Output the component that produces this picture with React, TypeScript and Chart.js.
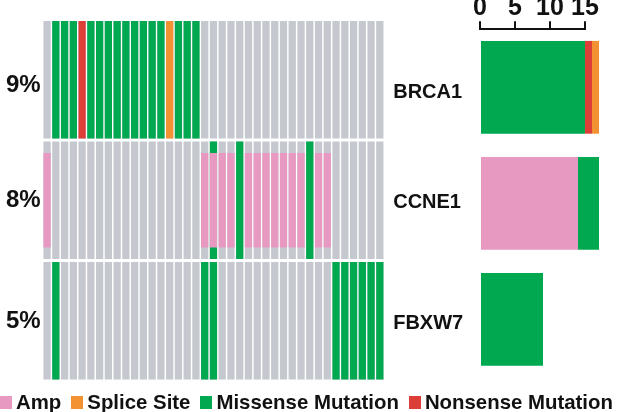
import React, { useEffect, useRef } from "react";
import { Chart, registerables } from "chart.js";
Chart.register(...registerables);

// ---------- data ----------
const GENES = ["BRCA1", "CCNE1", "FBXW7"];
const PERCENTS = ["9%", "8%", "5%"];
const SAMPLES = [
  "S1", "S2", "S3", "S4", "S5", "S6", "S7", "S8", "S9", "S10",
  "S11", "S12", "S13", "S14", "S15", "S16", "S17", "S18", "S19", "S20",
  "S21", "S22", "S23", "S24", "S25", "S26", "S27", "S28", "S29", "S30",
  "S31", "S32", "S33", "S34", "S35", "S36", "S37", "S38", "S39",
];
// per-sample alteration: "-" none, "M" missense, "N" nonsense, "S" splice, "A" amp, "AM" amp+missense
const BRCA1_ALT = [
  "-", "M", "M", "M", "N", "M", "M", "M", "M", "M", "M", "M", "M", "M", "S", "M", "M", "M",
  "-", "-", "-", "-", "-", "-", "-", "-", "-", "-", "-", "-", "-", "-", "-", "-", "-", "-", "-", "-", "-",
];
const CCNE1_ALT = [
  "A", "-", "-", "-", "-", "-", "-", "-", "-", "-", "-", "-", "-", "-", "-", "-", "-", "-",
  "A", "AM", "A", "A", "M", "A", "A", "A", "A", "A", "A", "A", "M", "A", "A",
  "-", "-", "-", "-", "-", "-",
];
const FBXW7_ALT = [
  "-", "M", "-", "-", "-", "-", "-", "-", "-", "-", "-", "-", "-", "-", "-", "-", "-", "-",
  "M", "M", "-", "-", "-", "-", "-", "-", "-", "-", "-", "-", "-", "-", "-",
  "M", "M", "M", "M", "M", "M",
];
const AMP_COUNTS = [0, 14, 0];
const MISSENSE_COUNTS = [15, 3, 9];
const NONSENSE_COUNTS = [1, 0, 0];
const SPLICE_COUNTS = [1, 0, 0];
const AXIS_TICKS = [0, 5, 10, 15];
const LEGEND_LABELS = ["Amp", "Splice Site", "Missense Mutation", "Nonsense Mutation"];

// ---------- styles ----------
const GREY = "#c5c8cf";
const GREEN = "#00a850";
const RED = "#dc3f38";
const ORANGE = "#f39233";
const PINK = "#e899c1";
const LEGEND_COLORS = [PINK, ORANGE, GREEN, RED];
const FONT = '"Liberation Sans", Arial, sans-serif';
const INK = "#111";

const ROW_H = 0.975;
const AMP_TOP = 0.095;
const AMP_BOT = 0.88;
const PCT_POS = [0.535, 1.49, 2.49];
const GENE_POS = [0.59, 1.51, 2.51];

function buildGridDatasets() {
  const alts = [BRCA1_ALT, CCNE1_ALT, FBXW7_ALT];
  const ds: any[] = [];
  alts.forEach((row, g) => {
    ds.push({ data: row.map(() => [g, g + ROW_H]), backgroundColor: GREY, order: 3 });
    const muts: [string, string][] = [["M", GREEN], ["N", RED], ["S", ORANGE]];
    muts.forEach(([t, c]) => {
      ds.push({
        data: row.map((a) => (a.includes(t) ? [g, g + ROW_H] : null)),
        backgroundColor: c,
        order: 2,
      });
    });
    ds.push({
      data: row.map((a) => (a.includes("A") ? [g + AMP_TOP, g + AMP_BOT] : null)),
      backgroundColor: PINK,
      order: 1,
    });
  });
  return ds;
}

export default function App() {
  const gridRef = useRef<HTMLCanvasElement>(null);
  const barRef = useRef<HTMLCanvasElement>(null);

  useEffect(() => {
    const grid = new Chart(gridRef.current!, {
      type: "bar",
      data: { labels: SAMPLES, datasets: buildGridDatasets() },
      options: {
        animation: false,
        responsive: false,
        events: [],
        layout: { padding: { top: 15, bottom: 29.5, left: 0, right: 134.8 } },
        plugins: { legend: { display: false }, tooltip: { enabled: false } },
        datasets: {
          bar: {
            grouped: false,
            barPercentage: 0.83,
            categoryPercentage: 1,
            borderWidth: 0,
            inflateAmount: 0,
          } as any,
        },
        scales: {
          x: { display: false },
          y: {
            type: "linear",
            position: "left",
            min: 0,
            max: 3,
            reverse: true,
            grid: { display: false, drawTicks: false },
            border: { display: false },
            afterFit: (s: any) => {
              s.width = 42.7;
            },
            afterBuildTicks: (s: any) => {
              s.ticks = PCT_POS.map((v) => ({ value: v }));
            },
            ticks: {
              padding: 2,
              color: INK,
              font: { family: FONT, size: 24, weight: "bold" },
              callback: (_v: any, i: number) => PERCENTS[i],
            },
          },
          y2: {
            type: "linear",
            position: "right",
            min: 0,
            max: 3,
            reverse: true,
            grid: { display: false, drawTicks: false },
            border: { display: false },
            afterFit: (s: any) => {
              s.width = 100;
            },
            afterBuildTicks: (s: any) => {
              s.ticks = GENE_POS.map((v) => ({ value: v }));
            },
            ticks: {
              padding: 9,
              color: INK,
              font: { family: FONT, size: 20, weight: "bold" },
              callback: (_v: any, i: number) => GENES[i],
            },
          },
        },
      } as any,
    });

    const bars = new Chart(barRef.current!, {
      type: "bar",
      data: {
        labels: GENES,
        datasets: [
          { label: "Amp", data: AMP_COUNTS, backgroundColor: PINK, clip: false } as any,
          { label: "Missense Mutation", data: MISSENSE_COUNTS, backgroundColor: GREEN, clip: false },
          { label: "Nonsense Mutation", data: NONSENSE_COUNTS, backgroundColor: RED, clip: false },
          { label: "Splice Site", data: SPLICE_COUNTS, backgroundColor: ORANGE, clip: false },
        ],
      },
      options: {
        indexAxis: "y",
        animation: false,
        responsive: false,
        events: [],
        layout: { padding: { left: 480, right: 34, top: 0, bottom: 34.7 } },
        plugins: { legend: { display: false }, tooltip: { enabled: false } },
        datasets: {
          bar: { barPercentage: 0.8, categoryPercentage: 1, borderWidth: 0, inflateAmount: 0 } as any,
        },
        scales: {
          x: {
            position: "top",
            stacked: true,
            min: 0,
            max: 15,
            afterBuildTicks: (s: any) => {
              s.ticks = AXIS_TICKS.map((v) => ({ value: v }));
            },
            afterFit: (s: any) => {
              s.height = 29.3;
            },
            grid: { drawOnChartArea: false, drawTicks: true, tickLength: 8, color: INK, lineWidth: 2 },
            border: { display: true, color: INK, width: 2 },
            ticks: {
              padding: -2,
              maxRotation: 0,
              autoSkip: false,
              color: INK,
              font: { family: FONT, size: 25, weight: "bold" },
            },
          },
          y: { display: false, stacked: true },
        },
      } as any,
    });

    return () => {
      grid.destroy();
      bars.destroy();
    };
  }, []);

  return (
    <div
      style={{
        position: "absolute",
        left: 0,
        top: 0,
        width: 619,
        height: 412,
        background: "#fff",
        overflow: "hidden",
      }}
    >
      <canvas ref={gridRef} width={619} height={412} style={{ position: "absolute", left: 0, top: 0 }} />
      <canvas ref={barRef} width={619} height={412} style={{ position: "absolute", left: 0, top: 0 }} />
      <div
        style={{
          position: "absolute",
          left: 0,
          top: 392,
          display: "flex",
          alignItems: "center",
          whiteSpace: "nowrap",
          font: `bold 20.4px ${FONT}`,
          lineHeight: "20px",
          color: INK,
        }}
      >
        {LEGEND_LABELS.map((lab, i) => (
          <span key={lab} style={{ display: "flex", alignItems: "center", marginLeft: i ? 10 : 0 }}>
            <span
              style={{
                display: "inline-block",
                width: 12,
                height: 13,
                background: LEGEND_COLORS[i],
                marginRight: 4,
              }}
            />
            {lab}
          </span>
        ))}
      </div>
    </div>
  );
}
